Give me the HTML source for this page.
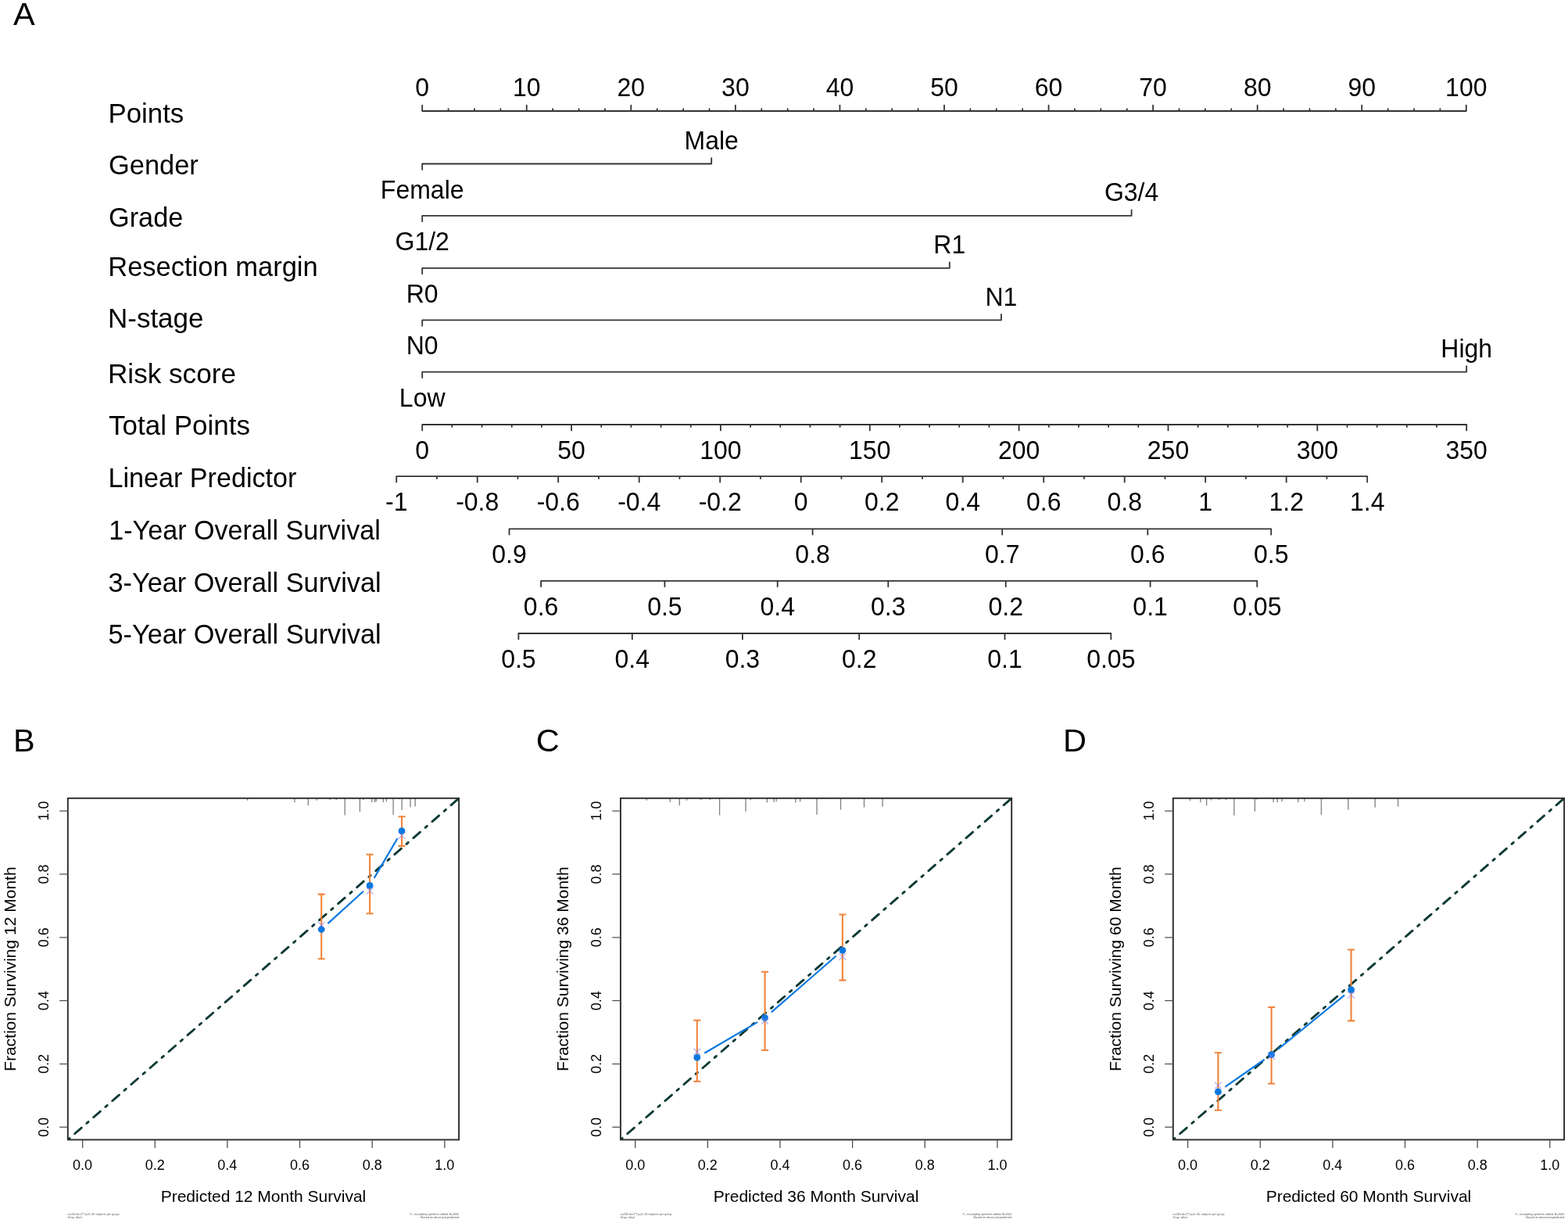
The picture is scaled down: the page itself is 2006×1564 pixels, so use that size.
<!DOCTYPE html>
<html><head><meta charset="utf-8"><title>Nomogram and calibration curves</title>
<style>
html,body{margin:0;padding:0;background:#fff;}
svg{display:block;}
text{font-family:'Liberation Sans', sans-serif;fill:#000;}
</style></head>
<body>
<svg width="2006" height="1564" viewBox="0 0 2006 1564">
<rect width="2006" height="1564" fill="#fff"/>
<text x="17" y="31.7" font-size="41.5">A</text>
<text x="138.52" y="156.5" font-size="35" textLength="96.76" lengthAdjust="spacingAndGlyphs">Points</text>
<text x="139.03" y="222.5" font-size="35" textLength="114.8" lengthAdjust="spacingAndGlyphs">Gender</text>
<text x="139.04" y="289.8" font-size="35" textLength="95.21" lengthAdjust="spacingAndGlyphs">Grade</text>
<text x="138.24" y="353.1" font-size="35" textLength="268.46" lengthAdjust="spacingAndGlyphs">Resection margin</text>
<text x="138" y="419.4" font-size="35" textLength="122.46" lengthAdjust="spacingAndGlyphs">N-stage</text>
<text x="137.99" y="489.7" font-size="35" textLength="164" lengthAdjust="spacingAndGlyphs">Risk score</text>
<text x="139.1" y="556.1" font-size="35" textLength="180.84" lengthAdjust="spacingAndGlyphs">Total Points</text>
<text x="138.47" y="623.4" font-size="35" textLength="241" lengthAdjust="spacingAndGlyphs">Linear Predictor</text>
<text x="139.28" y="689.5" font-size="35" textLength="347.5" lengthAdjust="spacingAndGlyphs">1-Year Overall Survival</text>
<text x="138.54" y="756.6" font-size="35" textLength="349.04" lengthAdjust="spacingAndGlyphs">3-Year Overall Survival</text>
<text x="138.54" y="823.4" font-size="35" textLength="349.04" lengthAdjust="spacingAndGlyphs">5-Year Overall Survival</text>
<text transform="translate(540.2,123.4) scale(0.97,1)" font-size="33" text-anchor="middle">0</text>
<text transform="translate(673.76,123.4) scale(0.97,1)" font-size="33" text-anchor="middle">10</text>
<text transform="translate(807.32,123.4) scale(0.97,1)" font-size="33" text-anchor="middle">20</text>
<text transform="translate(940.88,123.4) scale(0.97,1)" font-size="33" text-anchor="middle">30</text>
<text transform="translate(1074.44,123.4) scale(0.97,1)" font-size="33" text-anchor="middle">40</text>
<text transform="translate(1208,123.4) scale(0.97,1)" font-size="33" text-anchor="middle">50</text>
<text transform="translate(1341.56,123.4) scale(0.97,1)" font-size="33" text-anchor="middle">60</text>
<text transform="translate(1475.12,123.4) scale(0.97,1)" font-size="33" text-anchor="middle">70</text>
<text transform="translate(1608.68,123.4) scale(0.97,1)" font-size="33" text-anchor="middle">80</text>
<text transform="translate(1742.24,123.4) scale(0.97,1)" font-size="33" text-anchor="middle">90</text>
<text transform="translate(1875.8,123.4) scale(0.97,1)" font-size="33" text-anchor="middle">100</text>
<path d="M540.2,142H1875.8M540.2,142V134.6M573.59,142V139.1M606.98,142V139.1M640.37,142V139.1M673.76,142V134.6M707.15,142V139.1M740.54,142V139.1M773.93,142V139.1M807.32,142V134.6M840.71,142V139.1M874.1,142V139.1M907.49,142V139.1M940.88,142V134.6M974.27,142V139.1M1007.66,142V139.1M1041.05,142V139.1M1074.44,142V134.6M1107.83,142V139.1M1141.22,142V139.1M1174.61,142V139.1M1208,142V134.6M1241.39,142V139.1M1274.78,142V139.1M1308.17,142V139.1M1341.56,142V134.6M1374.95,142V139.1M1408.34,142V139.1M1441.73,142V139.1M1475.12,142V134.6M1508.51,142V139.1M1541.9,142V139.1M1575.29,142V139.1M1608.68,142V134.6M1642.07,142V139.1M1675.46,142V139.1M1708.85,142V139.1M1742.24,142V134.6M1775.63,142V139.1M1809.02,142V139.1M1842.41,142V139.1M1875.8,142V134.6" stroke="#333" stroke-width="1.8" fill="none" stroke-linecap="round" stroke-linejoin="round"/>
<path d="M540.2,216.9V209.5H910.2V202.1" stroke="#333" stroke-width="1.8" fill="none" stroke-linecap="round" stroke-linejoin="round"/>
<text transform="translate(540.2,253.5) scale(0.97,1)" font-size="33" text-anchor="middle">Female</text>
<text transform="translate(910.2,190.9) scale(0.97,1)" font-size="33" text-anchor="middle">Male</text>
<path d="M540.2,283.2V275.8H1447.6V268.4" stroke="#333" stroke-width="1.8" fill="none" stroke-linecap="round" stroke-linejoin="round"/>
<text transform="translate(540.2,319.8) scale(0.97,1)" font-size="33" text-anchor="middle">G1/2</text>
<text transform="translate(1447.6,257.2) scale(0.97,1)" font-size="33" text-anchor="middle">G3/4</text>
<path d="M540.2,350.2V342.8H1214.8V335.4" stroke="#333" stroke-width="1.8" fill="none" stroke-linecap="round" stroke-linejoin="round"/>
<text transform="translate(540.2,386.8) scale(0.97,1)" font-size="33" text-anchor="middle">R0</text>
<text transform="translate(1214.8,324.2) scale(0.97,1)" font-size="33" text-anchor="middle">R1</text>
<path d="M540.2,416.7V409.3H1280.9V401.9" stroke="#333" stroke-width="1.8" fill="none" stroke-linecap="round" stroke-linejoin="round"/>
<text transform="translate(540.2,453.3) scale(0.97,1)" font-size="33" text-anchor="middle">N0</text>
<text transform="translate(1280.9,390.7) scale(0.97,1)" font-size="33" text-anchor="middle">N1</text>
<path d="M540.2,483V475.6H1876.2V468.2" stroke="#333" stroke-width="1.8" fill="none" stroke-linecap="round" stroke-linejoin="round"/>
<text transform="translate(540.2,519.6) scale(0.97,1)" font-size="33" text-anchor="middle">Low</text>
<text transform="translate(1876.2,457) scale(0.97,1)" font-size="33" text-anchor="middle">High</text>
<text transform="translate(540.2,586.6) scale(0.97,1)" font-size="33" text-anchor="middle">0</text>
<text transform="translate(731.06,586.6) scale(0.97,1)" font-size="33" text-anchor="middle">50</text>
<text transform="translate(921.91,586.6) scale(0.97,1)" font-size="33" text-anchor="middle">100</text>
<text transform="translate(1112.77,586.6) scale(0.97,1)" font-size="33" text-anchor="middle">150</text>
<text transform="translate(1303.63,586.6) scale(0.97,1)" font-size="33" text-anchor="middle">200</text>
<text transform="translate(1494.49,586.6) scale(0.97,1)" font-size="33" text-anchor="middle">250</text>
<text transform="translate(1685.34,586.6) scale(0.97,1)" font-size="33" text-anchor="middle">300</text>
<text transform="translate(1876.2,586.6) scale(0.97,1)" font-size="33" text-anchor="middle">350</text>
<path d="M540.2,543H1876.2M540.2,543V550.4M578.37,543V545.9M616.54,543V545.9M654.71,543V545.9M692.89,543V545.9M731.06,543V550.4M769.23,543V545.9M807.4,543V545.9M845.57,543V545.9M883.74,543V545.9M921.91,543V550.4M960.09,543V545.9M998.26,543V545.9M1036.43,543V545.9M1074.6,543V545.9M1112.77,543V550.4M1150.94,543V545.9M1189.11,543V545.9M1227.29,543V545.9M1265.46,543V545.9M1303.63,543V550.4M1341.8,543V545.9M1379.97,543V545.9M1418.14,543V545.9M1456.31,543V545.9M1494.49,543V550.4M1532.66,543V545.9M1570.83,543V545.9M1609,543V545.9M1647.17,543V545.9M1685.34,543V550.4M1723.51,543V545.9M1761.69,543V545.9M1799.86,543V545.9M1838.03,543V545.9M1876.2,543V550.4" stroke="#333" stroke-width="1.8" fill="none" stroke-linecap="round" stroke-linejoin="round"/>
<text transform="translate(507.2,653.2) scale(0.97,1)" font-size="33" text-anchor="middle">-1</text>
<text transform="translate(610.7,653.2) scale(0.97,1)" font-size="33" text-anchor="middle">-0.8</text>
<text transform="translate(714.2,653.2) scale(0.97,1)" font-size="33" text-anchor="middle">-0.6</text>
<text transform="translate(817.7,653.2) scale(0.97,1)" font-size="33" text-anchor="middle">-0.4</text>
<text transform="translate(921.2,653.2) scale(0.97,1)" font-size="33" text-anchor="middle">-0.2</text>
<text transform="translate(1024.7,653.2) scale(0.97,1)" font-size="33" text-anchor="middle">0</text>
<text transform="translate(1128.2,653.2) scale(0.97,1)" font-size="33" text-anchor="middle">0.2</text>
<text transform="translate(1231.7,653.2) scale(0.97,1)" font-size="33" text-anchor="middle">0.4</text>
<text transform="translate(1335.2,653.2) scale(0.97,1)" font-size="33" text-anchor="middle">0.6</text>
<text transform="translate(1438.7,653.2) scale(0.97,1)" font-size="33" text-anchor="middle">0.8</text>
<text transform="translate(1542.2,653.2) scale(0.97,1)" font-size="33" text-anchor="middle">1</text>
<text transform="translate(1645.7,653.2) scale(0.97,1)" font-size="33" text-anchor="middle">1.2</text>
<text transform="translate(1749.2,653.2) scale(0.97,1)" font-size="33" text-anchor="middle">1.4</text>
<path d="M507.2,609.2H1749.2M507.2,609.2V616.6M558.95,609.2V612.1M610.7,609.2V616.6M662.45,609.2V612.1M714.2,609.2V616.6M765.95,609.2V612.1M817.7,609.2V616.6M869.45,609.2V612.1M921.2,609.2V616.6M972.95,609.2V612.1M1024.7,609.2V616.6M1076.45,609.2V612.1M1128.2,609.2V616.6M1179.95,609.2V612.1M1231.7,609.2V616.6M1283.45,609.2V612.1M1335.2,609.2V616.6M1386.95,609.2V612.1M1438.7,609.2V616.6M1490.45,609.2V612.1M1542.2,609.2V616.6M1593.95,609.2V612.1M1645.7,609.2V616.6M1697.45,609.2V612.1M1749.2,609.2V616.6" stroke="#333" stroke-width="1.8" fill="none" stroke-linecap="round" stroke-linejoin="round"/>
<text transform="translate(651.5,720.3) scale(0.97,1)" font-size="33" text-anchor="middle">0.9</text>
<text transform="translate(1039.6,720.3) scale(0.97,1)" font-size="33" text-anchor="middle">0.8</text>
<text transform="translate(1282.2,720.3) scale(0.97,1)" font-size="33" text-anchor="middle">0.7</text>
<text transform="translate(1468.3,720.3) scale(0.97,1)" font-size="33" text-anchor="middle">0.6</text>
<text transform="translate(1626.2,720.3) scale(0.97,1)" font-size="33" text-anchor="middle">0.5</text>
<path d="M651.5,676.3H1626.2M651.5,676.3V683.7M1039.6,676.3V683.7M1282.2,676.3V683.7M1468.3,676.3V683.7M1626.2,676.3V683.7" stroke="#333" stroke-width="1.8" fill="none" stroke-linecap="round" stroke-linejoin="round"/>
<text transform="translate(692.1,786.8) scale(0.97,1)" font-size="33" text-anchor="middle">0.6</text>
<text transform="translate(850.4,786.8) scale(0.97,1)" font-size="33" text-anchor="middle">0.5</text>
<text transform="translate(994.7,786.8) scale(0.97,1)" font-size="33" text-anchor="middle">0.4</text>
<text transform="translate(1136.3,786.8) scale(0.97,1)" font-size="33" text-anchor="middle">0.3</text>
<text transform="translate(1286.7,786.8) scale(0.97,1)" font-size="33" text-anchor="middle">0.2</text>
<text transform="translate(1471.6,786.8) scale(0.97,1)" font-size="33" text-anchor="middle">0.1</text>
<text transform="translate(1608.3,786.8) scale(0.97,1)" font-size="33" text-anchor="middle">0.05</text>
<path d="M692.1,742.8H1608.3M692.1,742.8V750.2M850.4,742.8V750.2M994.7,742.8V750.2M1136.3,742.8V750.2M1286.7,742.8V750.2M1471.6,742.8V750.2M1608.3,742.8V750.2" stroke="#333" stroke-width="1.8" fill="none" stroke-linecap="round" stroke-linejoin="round"/>
<text transform="translate(663.4,854) scale(0.97,1)" font-size="33" text-anchor="middle">0.5</text>
<text transform="translate(808.8,854) scale(0.97,1)" font-size="33" text-anchor="middle">0.4</text>
<text transform="translate(949.9,854) scale(0.97,1)" font-size="33" text-anchor="middle">0.3</text>
<text transform="translate(1099.2,854) scale(0.97,1)" font-size="33" text-anchor="middle">0.2</text>
<text transform="translate(1285.5,854) scale(0.97,1)" font-size="33" text-anchor="middle">0.1</text>
<text transform="translate(1421.3,854) scale(0.97,1)" font-size="33" text-anchor="middle">0.05</text>
<path d="M663.4,810H1421.3M663.4,810V817.4M808.8,810V817.4M949.9,810V817.4M1099.2,810V817.4M1285.5,810V817.4M1421.3,810V817.4" stroke="#333" stroke-width="1.8" fill="none" stroke-linecap="round" stroke-linejoin="round"/>
<text x="17" y="960.9" font-size="41.5">B</text>
<clipPath id="clipB"><rect x="86.8" y="1020.8" width="500.3" height="436.7"/></clipPath>
<path d="M316.6,1020.8V1023.8M376.9,1020.8V1026M394.3,1020.8V1030.1M405.1,1020.8V1023.8M422.1,1020.8V1023M430.2,1020.8V1023M441.2,1020.8V1042.5M452,1020.8V1022M460.4,1020.8V1037.9M464.8,1020.8V1023M475.7,1020.8V1026M479.5,1020.8V1026M481.3,1020.8V1025M490.3,1020.8V1026M494.4,1020.8V1025M503.1,1020.8V1041.9M510.6,1020.8V1022M514.1,1020.8V1035.7M525,1020.8V1032.2M531.2,1020.8V1031.3" stroke="#808080" stroke-width="1.3" fill="none"/>
<line x1="86.8" y1="1457.5" x2="587.1" y2="1020.8" stroke="#ececec" stroke-width="1.0"/>
<line x1="86.8" y1="1457.5" x2="587.1" y2="1020.8" stroke="#0d3a36" stroke-width="2.9" stroke-dasharray="2.9 8.85 11.35 8.85" clip-path="url(#clipB)" stroke-linecap="round"/>
<path d="M411.2,1143.6V1226.3M406.7,1143.6H415.7M406.7,1226.3H415.7" stroke="#f0843c" stroke-width="2.1" fill="none"/>
<path d="M473.1,1092.8V1168.2M468.6,1092.8H477.6M468.6,1168.2H477.6" stroke="#f0843c" stroke-width="2.1" fill="none"/>
<path d="M514,1044.3V1081.9M509.5,1044.3H518.5M509.5,1081.9H518.5" stroke="#f0843c" stroke-width="2.1" fill="none"/>
<line x1="419.35" y1="1181.11" x2="464.95" y2="1139.79" stroke="#0a78e0" stroke-width="2.2"/>
<line x1="478.67" y1="1122.91" x2="508.43" y2="1072.19" stroke="#0a78e0" stroke-width="2.2"/>
<circle cx="411.2" cy="1188.5" r="4.4" fill="#0a78e0"/>
<path d="M406.8,1178.9L415.6,1187.7M406.8,1187.7L415.6,1178.9" stroke="#8a7cf0" stroke-width="1.0" fill="none"/>
<circle cx="473.1" cy="1132.4" r="4.4" fill="#0a78e0"/>
<path d="M468.7,1134.9L477.5,1143.7M468.7,1143.7L477.5,1134.9" stroke="#8a7cf0" stroke-width="1.0" fill="none"/>
<circle cx="514" cy="1062.7" r="4.4" fill="#0a78e0"/>
<path d="M509.6,1064.1L518.4,1072.9M509.6,1072.9L518.4,1064.1" stroke="#8a7cf0" stroke-width="1.0" fill="none"/>
<rect x="86.8" y="1020.8" width="500.3" height="436.7" fill="none" stroke="#2a2a2a" stroke-width="1.9"/>
<text x="105.6" y="1495.8" font-size="18" text-anchor="middle">0.0</text>
<text x="198.24" y="1495.8" font-size="18" text-anchor="middle">0.2</text>
<text x="290.88" y="1495.8" font-size="18" text-anchor="middle">0.4</text>
<text x="383.52" y="1495.8" font-size="18" text-anchor="middle">0.6</text>
<text x="476.16" y="1495.8" font-size="18" text-anchor="middle">0.8</text>
<text x="568.8" y="1495.8" font-size="18" text-anchor="middle">1.0</text>
<text x="0" y="0" font-size="18" text-anchor="middle" transform="translate(62.3,1441.4) rotate(-90)">0.0</text>
<text x="0" y="0" font-size="18" text-anchor="middle" transform="translate(62.3,1360.54) rotate(-90)">0.2</text>
<text x="0" y="0" font-size="18" text-anchor="middle" transform="translate(62.3,1279.68) rotate(-90)">0.4</text>
<text x="0" y="0" font-size="18" text-anchor="middle" transform="translate(62.3,1198.82) rotate(-90)">0.6</text>
<text x="0" y="0" font-size="18" text-anchor="middle" transform="translate(62.3,1117.96) rotate(-90)">0.8</text>
<text x="0" y="0" font-size="18" text-anchor="middle" transform="translate(62.3,1037.1) rotate(-90)">1.0</text>
<path d="M105.6,1457.5V1468.1M198.24,1457.5V1468.1M290.88,1457.5V1468.1M383.52,1457.5V1468.1M476.16,1457.5V1468.1M568.8,1457.5V1468.1M86.8,1441.4H76.2M86.8,1360.54H76.2M86.8,1279.68H76.2M86.8,1198.82H76.2M86.8,1117.96H76.2M86.8,1037.1H76.2" stroke="#505050" stroke-width="1.3" fill="none"/>
<text x="336.95" y="1537.2" font-size="21" text-anchor="middle">Predicted 12 Month Survival</text>
<text x="0" y="0" font-size="21" text-anchor="middle" transform="translate(19.5,1239.15) rotate(-90)">Fraction Surviving 12 Month</text>
<text transform="translate(86.5,1554.4) scale(0.1)" x="0" y="0" font-size="42" style="fill:#5a5a5a" lengthAdjust="spacingAndGlyphs" textLength="660">n=264 d=177 p=5, 60 subjects per group</text>
<text transform="translate(86.5,1558.4) scale(0.1)" x="0" y="0" font-size="42" style="fill:#5a5a5a" lengthAdjust="spacingAndGlyphs" textLength="180">Gray: ideal</text>
<text transform="translate(524.3,1554.4) scale(0.1)" x="0" y="0" font-size="42" style="fill:#5a5a5a" lengthAdjust="spacingAndGlyphs" textLength="628">X - resampling optimism added, B=1000</text>
<text transform="translate(538.3,1558.4) scale(0.1)" x="0" y="0" font-size="42" style="fill:#5a5a5a" lengthAdjust="spacingAndGlyphs" textLength="488">Based on observed-predicted</text>
<text x="685.8" y="960.9" font-size="41.5">C</text>
<clipPath id="clipC"><rect x="793.9" y="1020.8" width="500.3" height="436.7"/></clipPath>
<path d="M827.1,1020.8V1023.8M857.3,1020.8V1025.7M869.3,1020.8V1030.2M878.5,1020.8V1023.8M896.5,1020.8V1023.2M908.6,1020.8V1022.7M920.6,1020.8V1042.6M938.8,1020.8V1021.7M954,1020.8V1037.7M960.2,1020.8V1023.2M981.4,1020.8V1026.2M990.1,1020.8V1025.7M993.1,1020.8V1025M1017.8,1020.8V1026.2M1023.6,1020.8V1025M1045,1020.8V1041.7M1051,1020.8V1021.7M1062.9,1020.8V1021.7M1075.5,1020.8V1035.5M1105.5,1020.8V1032.4M1129.1,1020.8V1031.4" stroke="#808080" stroke-width="1.3" fill="none"/>
<line x1="793.9" y1="1457.5" x2="1294.2" y2="1020.8" stroke="#ececec" stroke-width="1.0"/>
<line x1="793.9" y1="1457.5" x2="1294.2" y2="1020.8" stroke="#0d3a36" stroke-width="2.9" stroke-dasharray="2.9 8.85 11.35 8.85" clip-path="url(#clipC)" stroke-linecap="round"/>
<path d="M891.8,1304.8V1383M887.3,1304.8H896.3M887.3,1383H896.3" stroke="#f0843c" stroke-width="2.1" fill="none"/>
<path d="M978.6,1242.7V1343M974.1,1242.7H983.1M974.1,1343H983.1" stroke="#f0843c" stroke-width="2.1" fill="none"/>
<path d="M1077.9,1169.5V1253.6M1073.4,1169.5H1082.4M1073.4,1253.6H1082.4" stroke="#f0843c" stroke-width="2.1" fill="none"/>
<line x1="901.3" y1="1346.75" x2="969.1" y2="1307.15" stroke="#0a78e0" stroke-width="2.2"/>
<line x1="986.9" y1="1294.38" x2="1069.6" y2="1222.52" stroke="#0a78e0" stroke-width="2.2"/>
<circle cx="891.8" cy="1352.3" r="4.4" fill="#0a78e0"/>
<path d="M887.4,1340.7L896.2,1349.5M887.4,1349.5L896.2,1340.7" stroke="#8a7cf0" stroke-width="1.0" fill="none"/>
<circle cx="978.6" cy="1301.6" r="4.4" fill="#0a78e0"/>
<path d="M974.2,1301L983,1309.8M974.2,1309.8L983,1301" stroke="#8a7cf0" stroke-width="1.0" fill="none"/>
<circle cx="1077.9" cy="1215.3" r="4.4" fill="#0a78e0"/>
<path d="M1073.5,1219L1082.3,1227.8M1073.5,1227.8L1082.3,1219" stroke="#8a7cf0" stroke-width="1.0" fill="none"/>
<rect x="793.9" y="1020.8" width="500.3" height="436.7" fill="none" stroke="#2a2a2a" stroke-width="1.9"/>
<text x="812.7" y="1495.8" font-size="18" text-anchor="middle">0.0</text>
<text x="905.34" y="1495.8" font-size="18" text-anchor="middle">0.2</text>
<text x="997.98" y="1495.8" font-size="18" text-anchor="middle">0.4</text>
<text x="1090.62" y="1495.8" font-size="18" text-anchor="middle">0.6</text>
<text x="1183.26" y="1495.8" font-size="18" text-anchor="middle">0.8</text>
<text x="1275.9" y="1495.8" font-size="18" text-anchor="middle">1.0</text>
<text x="0" y="0" font-size="18" text-anchor="middle" transform="translate(769.4,1441.4) rotate(-90)">0.0</text>
<text x="0" y="0" font-size="18" text-anchor="middle" transform="translate(769.4,1360.54) rotate(-90)">0.2</text>
<text x="0" y="0" font-size="18" text-anchor="middle" transform="translate(769.4,1279.68) rotate(-90)">0.4</text>
<text x="0" y="0" font-size="18" text-anchor="middle" transform="translate(769.4,1198.82) rotate(-90)">0.6</text>
<text x="0" y="0" font-size="18" text-anchor="middle" transform="translate(769.4,1117.96) rotate(-90)">0.8</text>
<text x="0" y="0" font-size="18" text-anchor="middle" transform="translate(769.4,1037.1) rotate(-90)">1.0</text>
<path d="M812.7,1457.5V1468.1M905.34,1457.5V1468.1M997.98,1457.5V1468.1M1090.62,1457.5V1468.1M1183.26,1457.5V1468.1M1275.9,1457.5V1468.1M793.9,1441.4H783.3M793.9,1360.54H783.3M793.9,1279.68H783.3M793.9,1198.82H783.3M793.9,1117.96H783.3M793.9,1037.1H783.3" stroke="#505050" stroke-width="1.3" fill="none"/>
<text x="1044.05" y="1537.2" font-size="21" text-anchor="middle">Predicted 36 Month Survival</text>
<text x="0" y="0" font-size="21" text-anchor="middle" transform="translate(726.6,1239.15) rotate(-90)">Fraction Surviving 36 Month</text>
<text transform="translate(793.6,1554.4) scale(0.1)" x="0" y="0" font-size="42" style="fill:#5a5a5a" lengthAdjust="spacingAndGlyphs" textLength="660">n=264 d=177 p=5, 60 subjects per group</text>
<text transform="translate(793.6,1558.4) scale(0.1)" x="0" y="0" font-size="42" style="fill:#5a5a5a" lengthAdjust="spacingAndGlyphs" textLength="180">Gray: ideal</text>
<text transform="translate(1231.4,1554.4) scale(0.1)" x="0" y="0" font-size="42" style="fill:#5a5a5a" lengthAdjust="spacingAndGlyphs" textLength="628">X - resampling optimism added, B=1000</text>
<text transform="translate(1245.4,1558.4) scale(0.1)" x="0" y="0" font-size="42" style="fill:#5a5a5a" lengthAdjust="spacingAndGlyphs" textLength="488">Based on observed-predicted</text>
<text x="1360" y="960.9" font-size="41.5">D</text>
<clipPath id="clipD"><rect x="1500.8" y="1020.8" width="500.3" height="436.7"/></clipPath>
<path d="M1522.5,1020.8V1023.9M1535.9,1020.8V1025.9M1543.6,1020.8V1030.1M1549.2,1020.8V1023.6M1559.8,1020.8V1023.1M1568.3,1020.8V1023.1M1578.9,1020.8V1042.8M1592,1020.8V1021.6M1605.4,1020.8V1037.8M1607.8,1020.8V1022.4M1629.1,1020.8V1025.9M1634.2,1020.8V1025.9M1639.9,1020.8V1025.1M1660.8,1020.8V1025.9M1668.8,1020.8V1025.1M1690.4,1020.8V1042M1695.5,1020.8V1021.6M1708.7,1020.8V1021.6M1724.9,1020.8V1035.5M1759.2,1020.8V1032.4M1788.6,1020.8V1031.6" stroke="#808080" stroke-width="1.3" fill="none"/>
<line x1="1500.8" y1="1457.5" x2="2001.1" y2="1020.8" stroke="#ececec" stroke-width="1.0"/>
<line x1="1500.8" y1="1457.5" x2="2001.1" y2="1020.8" stroke="#0d3a36" stroke-width="2.9" stroke-dasharray="2.9 8.85 11.35 8.85" clip-path="url(#clipD)" stroke-linecap="round"/>
<path d="M1558.4,1346.2V1419.7M1553.9,1346.2H1562.9M1553.9,1419.7H1562.9" stroke="#f0843c" stroke-width="2.1" fill="none"/>
<path d="M1626.6,1288V1385.8M1622.1,1288H1631.1M1622.1,1385.8H1631.1" stroke="#f0843c" stroke-width="2.1" fill="none"/>
<path d="M1728.6,1214.5V1305.4M1724.1,1214.5H1733.1M1724.1,1305.4H1733.1" stroke="#f0843c" stroke-width="2.1" fill="none"/>
<line x1="1567.43" y1="1389.91" x2="1617.57" y2="1354.99" stroke="#0a78e0" stroke-width="2.2"/>
<line x1="1635.13" y1="1341.75" x2="1720.07" y2="1272.55" stroke="#0a78e0" stroke-width="2.2"/>
<circle cx="1558.4" cy="1396.2" r="4.4" fill="#0a78e0"/>
<path d="M1554,1383.8L1562.8,1392.6M1554,1392.6L1562.8,1383.8" stroke="#8a7cf0" stroke-width="1.0" fill="none"/>
<circle cx="1626.6" cy="1348.7" r="4.4" fill="#0a78e0"/>
<path d="M1622.2,1346.2L1631,1355M1622.2,1355L1631,1346.2" stroke="#8a7cf0" stroke-width="1.0" fill="none"/>
<circle cx="1728.6" cy="1265.6" r="4.4" fill="#0a78e0"/>
<path d="M1724.2,1267.9L1733,1276.7M1724.2,1276.7L1733,1267.9" stroke="#8a7cf0" stroke-width="1.0" fill="none"/>
<rect x="1500.8" y="1020.8" width="500.3" height="436.7" fill="none" stroke="#2a2a2a" stroke-width="1.9"/>
<text x="1519.6" y="1495.8" font-size="18" text-anchor="middle">0.0</text>
<text x="1612.24" y="1495.8" font-size="18" text-anchor="middle">0.2</text>
<text x="1704.88" y="1495.8" font-size="18" text-anchor="middle">0.4</text>
<text x="1797.52" y="1495.8" font-size="18" text-anchor="middle">0.6</text>
<text x="1890.16" y="1495.8" font-size="18" text-anchor="middle">0.8</text>
<text x="1982.8" y="1495.8" font-size="18" text-anchor="middle">1.0</text>
<text x="0" y="0" font-size="18" text-anchor="middle" transform="translate(1476.3,1441.4) rotate(-90)">0.0</text>
<text x="0" y="0" font-size="18" text-anchor="middle" transform="translate(1476.3,1360.54) rotate(-90)">0.2</text>
<text x="0" y="0" font-size="18" text-anchor="middle" transform="translate(1476.3,1279.68) rotate(-90)">0.4</text>
<text x="0" y="0" font-size="18" text-anchor="middle" transform="translate(1476.3,1198.82) rotate(-90)">0.6</text>
<text x="0" y="0" font-size="18" text-anchor="middle" transform="translate(1476.3,1117.96) rotate(-90)">0.8</text>
<text x="0" y="0" font-size="18" text-anchor="middle" transform="translate(1476.3,1037.1) rotate(-90)">1.0</text>
<path d="M1519.6,1457.5V1468.1M1612.24,1457.5V1468.1M1704.88,1457.5V1468.1M1797.52,1457.5V1468.1M1890.16,1457.5V1468.1M1982.8,1457.5V1468.1M1500.8,1441.4H1490.2M1500.8,1360.54H1490.2M1500.8,1279.68H1490.2M1500.8,1198.82H1490.2M1500.8,1117.96H1490.2M1500.8,1037.1H1490.2" stroke="#505050" stroke-width="1.3" fill="none"/>
<text x="1750.95" y="1537.2" font-size="21" text-anchor="middle">Predicted 60 Month Survival</text>
<text x="0" y="0" font-size="21" text-anchor="middle" transform="translate(1433.5,1239.15) rotate(-90)">Fraction Surviving 60 Month</text>
<text transform="translate(1500.5,1554.4) scale(0.1)" x="0" y="0" font-size="42" style="fill:#5a5a5a" lengthAdjust="spacingAndGlyphs" textLength="660">n=264 d=177 p=5, 60 subjects per group</text>
<text transform="translate(1500.5,1558.4) scale(0.1)" x="0" y="0" font-size="42" style="fill:#5a5a5a" lengthAdjust="spacingAndGlyphs" textLength="180">Gray: ideal</text>
<text transform="translate(1938.3,1554.4) scale(0.1)" x="0" y="0" font-size="42" style="fill:#5a5a5a" lengthAdjust="spacingAndGlyphs" textLength="628">X - resampling optimism added, B=1000</text>
<text transform="translate(1952.3,1558.4) scale(0.1)" x="0" y="0" font-size="42" style="fill:#5a5a5a" lengthAdjust="spacingAndGlyphs" textLength="488">Based on observed-predicted</text>
</svg>
</body></html>
